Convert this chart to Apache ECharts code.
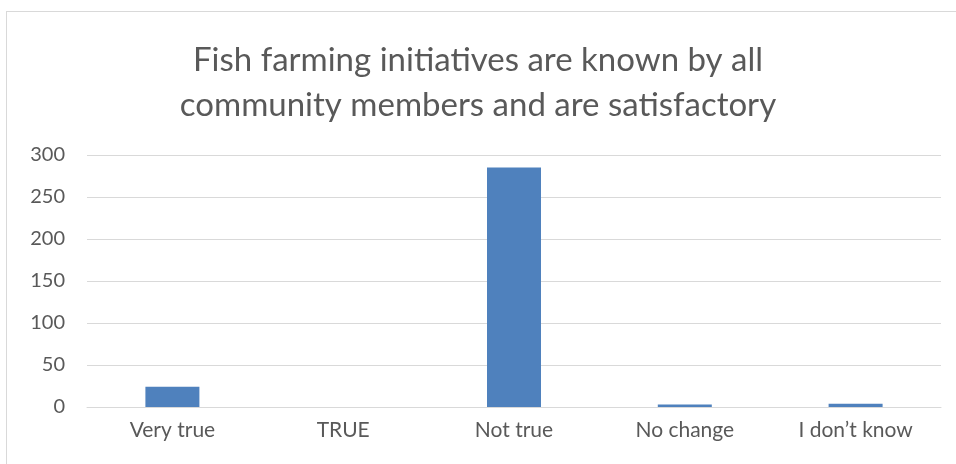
<!DOCTYPE html>
<html>
<head>
<meta charset="utf-8">
<script src="https://cdn.jsdelivr.net/npm/echarts@6/dist/echarts.min.js"></script>
<style>
  html, body { margin: 0; padding: 0; background: #fff; }
  #frame { position: absolute; left: 6px; top: 11px; width: 960px; height: 470px; border: 1px solid #d9d9d9; }
  #chart { position: absolute; left: 0; top: 0; width: 956px; height: 464px; }
</style>
</head>
<body>
<div id="frame"></div>
<div id="chart"></div>
<script>
const categories = ['Very true', 'TRUE', 'Not true', 'No change', 'I don\u2019t know']
const values = [24, 0, 285, 3, 4]
const yTicks = { min: 0, max: 300, interval: 50 }

const myChart = echarts.init(document.getElementById('chart'))
const option = {
  animation: false,
  title: {
    text: 'Fish farming initiatives are known by all\ncommunity members and are satisfactory',
    left: 'center',
    top: 33,
    textStyle: { fontFamily: 'Lato', fontSize: 33, fontWeight: 'normal', color: '#595959', lineHeight: 45 }
  },
  grid: { left: 87, right: 15, top: 155, bottom: 57 },
  xAxis: {
    type: 'category',
    data: categories,
    axisLine: { lineStyle: { color: '#d9d9d9', width: 1 } },
    axisTick: { show: false },
    axisLabel: { color: '#595959', fontFamily: 'Lato', fontSize: 21, margin: 13 }
  },
  yAxis: {
    type: 'value',
    min: yTicks.min,
    max: yTicks.max,
    interval: yTicks.interval,
    axisLine: { show: false },
    axisTick: { show: false },
    axisLabel: { color: '#595959', fontFamily: 'Lato', fontSize: 20, margin: 22 },
    splitLine: { lineStyle: { color: '#d9d9d9', width: 1 } }
  },
  series: [
    {
      type: 'bar',
      data: values,
      barWidth: 54,
      itemStyle: { color: '#4f81bd' }
    }
  ]
}
myChart.setOption(option)
</script>
</body>
</html>
